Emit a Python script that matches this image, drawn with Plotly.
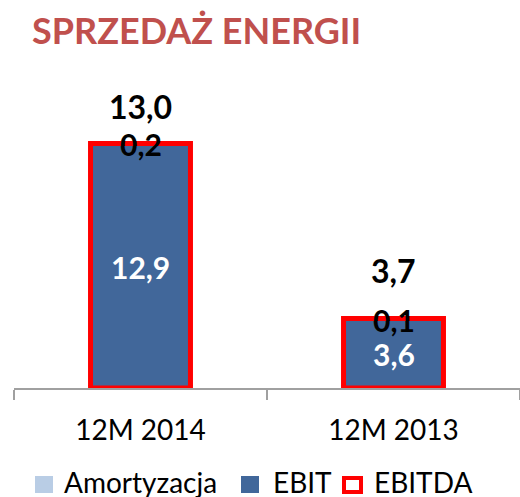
import plotly.graph_objects as go

categories = ["12M 2014", "12M 2013"]
ebit = [12.9, 3.6]
amortyzacja = [0.2, 0.1]
ebitda = [13.0, 3.7]

title_text = "SPRZEDAŻ ENERGII"
legend_names = ["Amortyzacja", "EBIT", "EBITDA"]

C_AMORT = "#B9CDE5"
C_EBIT = "#41679A"
C_RED = "#FF0000"
C_AXIS = "#A0A0A0"
FONT = "Lato"

def fmt(v):
    return f"{v:.1f}".replace(".", ",")

W_PX, H_PX = 520, 497
M_L, M_R, M_T, M_B = 14, 0, 70, 109
PLOT_W = W_PX - M_L - M_R
PLOT_H = H_PX - M_T - M_B

def px_x(x):
    return (x - M_L) / PLOT_W

def px_y(y):
    return (H_PX - M_B - y) / PLOT_H

W = 0.395
fig = go.Figure()
fig.add_trace(go.Bar(x=categories, y=ebit, width=W, name=legend_names[1],
                     marker=dict(color=C_EBIT, line=dict(width=0)),
                     showlegend=False, cliponaxis=False))
fig.add_trace(go.Bar(x=categories, y=amortyzacja, base=ebit, width=W, name=legend_names[0],
                     marker=dict(color=C_AMORT, line=dict(width=0)), showlegend=False, cliponaxis=False))
fig.add_trace(go.Bar(x=categories, y=ebitda, width=W, name=legend_names[2],
                     marker=dict(color="rgba(0,0,0,0)", line=dict(color=C_RED, width=5)),
                     showlegend=False, cliponaxis=False))

total_shift = [37, 48]
for i, c in enumerate(categories):
    fig.add_annotation(x=c, y=ebitda[i], text=fmt(ebitda[i]), showarrow=False,
                       yanchor="middle", yshift=total_shift[i],
                       font=dict(family=FONT, size=32, color="black", weight="bold"))
    fig.add_annotation(x=c, y=ebit[i] + amortyzacja[i], text=fmt(amortyzacja[i]), showarrow=False,
                       yanchor="middle", yshift=-2,
                       font=dict(family=FONT, size=30, color="black", weight="bold"))
    fig.add_annotation(x=c, y=ebit[i] / 2, text=fmt(ebit[i]), showarrow=False,
                       yanchor="middle", yshift=0,
                       font=dict(family=FONT, size=30, color="white", weight="bold"))

# manual legend
legend_items = [
    dict(name=legend_names[0], box=(35, 476, 53, 493), fill=C_AMORT, line=None, tx=62),
    dict(name=legend_names[1], box=(241, 476, 259, 493), fill=C_EBIT, line=None, tx=271),
    dict(name=legend_names[2], box=(344, 478, 361, 492), fill="white", line=C_RED, tx=372),
]
for it in legend_items:
    x0, y0, x1, y1 = it["box"]
    fig.add_shape(type="rect", xref="paper", yref="paper",
                  x0=px_x(x0), x1=px_x(x1), y0=px_y(y1), y1=px_y(y0),
                  fillcolor=it["fill"],
                  line=dict(color=it["line"] or it["fill"], width=4 if it["line"] else 0))
    fig.add_annotation(xref="paper", yref="paper", x=px_x(it["tx"]), y=px_y(482),
                       xanchor="left", yanchor="middle", text=it["name"], showarrow=False,
                       font=dict(family=FONT, size=28, color="black"))

fig.update_layout(
    width=W_PX, height=H_PX,
    barmode="overlay",
    paper_bgcolor="white", plot_bgcolor="white",
    margin=dict(l=M_L, r=M_R, t=M_T, b=M_B),
    title=dict(text=title_text, x=32/520, xanchor="left", xref="container",
               y=1 - 31/497, yanchor="middle", yref="container",
               font=dict(family=FONT, size=36, color="#C0504D", weight="bold")),
    xaxis=dict(type="category", showline=True, linecolor=C_AXIS, linewidth=2,
               ticks="outside", tickson="boundaries", ticklen=10, tickcolor=C_AXIS, tickwidth=2,
               ticklabelstandoff=16,
               tickfont=dict(family=FONT, size=28, color="black"), showgrid=False,
               range=[-0.5, 1.5]),
    yaxis=dict(visible=False, range=[0, 318/18.8]),
    showlegend=False,
)

fig.write_html("out.html", config=dict(displayModeBar=False),
               post_script="document.body.style.margin='0';document.body.style.overflow='hidden';")
